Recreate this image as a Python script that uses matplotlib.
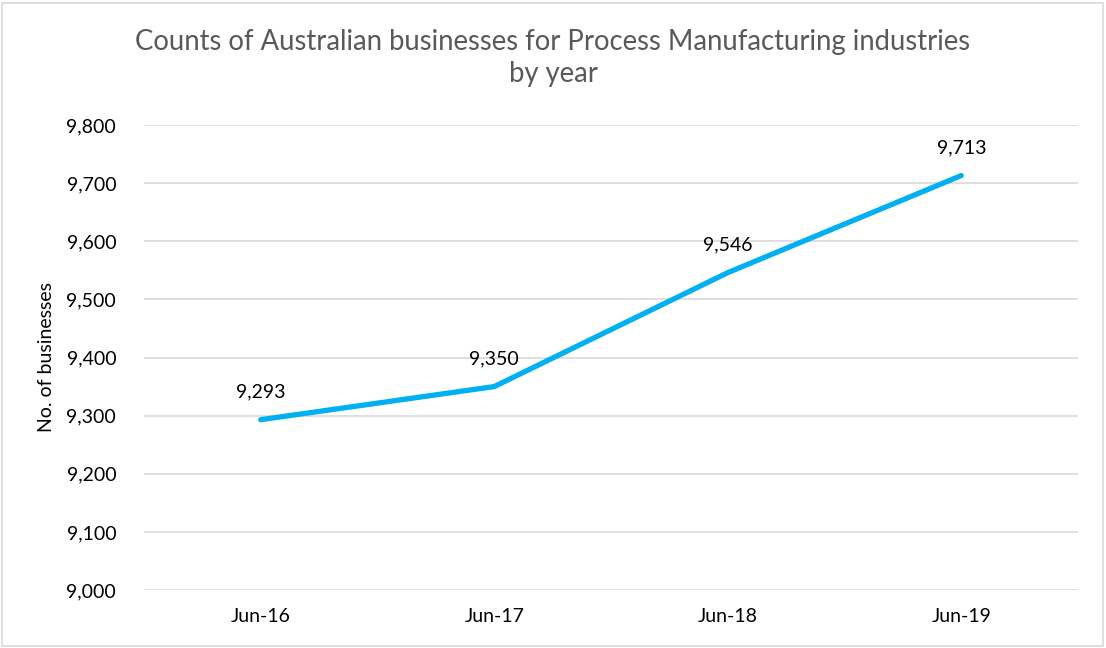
import matplotlib
matplotlib.use("Agg")
import matplotlib.pyplot as plt
from matplotlib.ticker import FuncFormatter, MultipleLocator
from matplotlib.patches import Rectangle

years = ["Jun-16", "Jun-17", "Jun-18", "Jun-19"]
counts = [9293, 9350, 9546, 9713]

plt.rcParams["font.family"] = ["Lato", "DejaVu Sans"]

W, H = 1106, 648
fig = plt.figure(figsize=(W / 100, H / 100), dpi=100)
ax = fig.add_axes([144 / W, 1 - 590 / H, (1078 - 144) / W, (590 - 125) / H])

x = list(range(len(years)))
ax.plot(x, counts, color="#00B0F0", lw=3.8, solid_capstyle="round", solid_joinstyle="round", zorder=3)
for xi, v in zip(x, counts):
    ax.annotate(f"{v:,}", (xi, v), xytext=(0, 14), textcoords="offset points",
                ha="center", va="bottom", fontsize=14, color="#000000")

ax.set_xlim(-0.5, len(years) - 0.5)
ax.set_ylim(9000, 9800)
ax.yaxis.set_major_locator(MultipleLocator(100))
ax.yaxis.set_major_formatter(FuncFormatter(lambda v, p: f"{int(v):,}"))
ax.set_xticks(x)
ax.set_xticklabels(years)
ax.tick_params(axis="both", length=0, labelsize=14, colors="#000000")
ax.tick_params(axis="y", pad=20)
ax.tick_params(axis="x", pad=13)
ax.grid(axis="y", color="#D9D9D9", lw=1.2)
ax.set_axisbelow(True)
for s in ax.spines.values():
    s.set_visible(False)

ax.set_ylabel("No. of businesses", fontsize=14, color="#000000", labelpad=8)

fig.text(0.5, 1 - 58 / H, "Counts of Australian businesses for Process Manufacturing industries\nby year",
         ha="center", va="center", fontsize=19.8, color="#595959", linespacing=1.3)

fig.patches.append(Rectangle((2 / W, 2 / H), (W - 5) / W, (H - 5) / H, transform=fig.transFigure,
                             fill=False, edgecolor="#D9D9D9", lw=1.2))

fig.savefig("out.png", dpi=100, facecolor="white")
